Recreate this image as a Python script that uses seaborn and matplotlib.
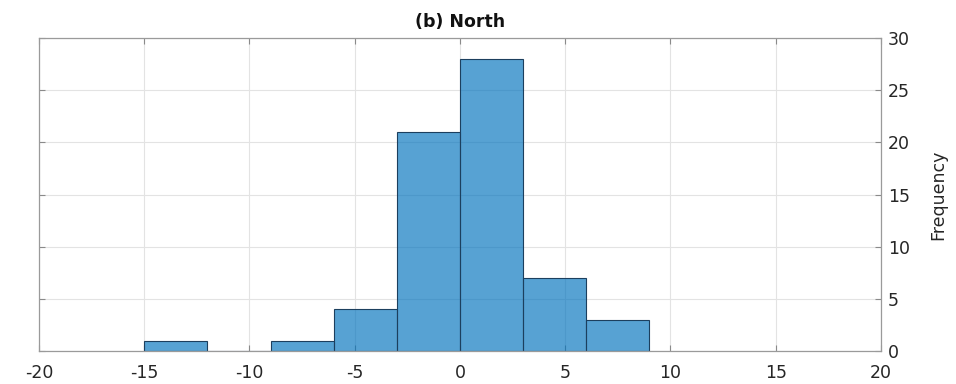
import matplotlib
matplotlib.use("Agg")
import matplotlib.pyplot as plt
import seaborn as sns
import numpy as np
import pandas as pd

# Histogram of the North region: bin edges and counts per bin
bin_edges = [-15, -12, -9, -6, -3, 0, 3, 6, 9]
counts = [1, 0, 1, 4, 21, 28, 7, 3]
x_ticks = [-20, -15, -10, -5, 0, 5, 10, 15, 20]
y_ticks = [0, 5, 10, 15, 20, 25, 30]
title = "(b) North"
y_label = "Frequency"

centers = [(a + b) / 2 for a, b in zip(bin_edges[:-1], bin_edges[1:])]
df = pd.DataFrame({"value": centers, "count": counts})

sns.set_style("white")
plt.rcParams["font.family"] = ["DejaVu Sans"]

fig = plt.figure(figsize=(9.56, 3.84), dpi=100)
ax = fig.add_axes([0.0408, 0.0859, 0.8807, 0.8151])

sns.histplot(data=df, x="value", weights="count", bins=bin_edges, ax=ax,
             color="#0072bd", alpha=0.66, edgecolor="#1c3f5e", linewidth=0.8)

ax.set_xlim(-20, 20)
ax.set_ylim(0, 30)
ax.set_xticks(x_ticks)
ax.set_yticks(y_ticks)
ax.set_xticklabels([str(t) for t in x_ticks])
ax.set_yticklabels([str(t) for t in y_ticks])

ax.grid(True, color="#e3e3e3", linewidth=0.8)
ax.set_axisbelow(True)

ax.yaxis.tick_right()
ax.yaxis.set_label_position("right")
ax.tick_params(axis="both", direction="in", length=4, color="#8a8a8a",
               labelsize=12.5, labelcolor="#262626", top=True, bottom=True,
               left=True, right=True, labelleft=False, labelright=True)
ax.tick_params(axis="x", pad=9)
ax.tick_params(axis="y", pad=5)

for s in ax.spines.values():
    s.set_color("#9a9a9a")
    s.set_linewidth(0.9)

ax.set_xlabel("")
ax.set_ylabel(y_label, fontsize=12.5, color="#262626", labelpad=14)
ax.set_title(title, fontsize=12.5, fontweight="bold", color="#111111", pad=8)

fig.savefig("out.png", dpi=100)
